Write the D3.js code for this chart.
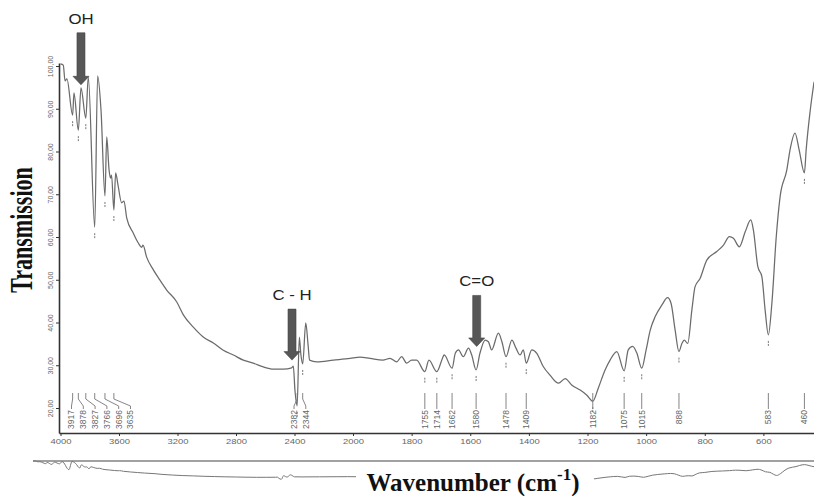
<!DOCTYPE html>
<html><head><meta charset="utf-8">
<script src="https://cdn.jsdelivr.net/npm/d3@7"></script>
<style>body{margin:0;background:#fff}svg{display:block;background:#fff}</style>
</head><body><svg id="c" width="814" height="496"></svg>
<script>
// ---------------- DATA ----------------
const wavenumbers = [4000,3981,3969,3956,3917,3908,3878,3860,3827,3810,
3766,3746,3723,3696,3684,3668,3658,3651,3635,3623,
3607,3582,3566,3547,3502,3468,3445,3436,3411,3365,
3320,3274,3205,3160,3092,3024,2955,2887,2818,2750,
2682,2613,2545,2477,2419,2408,2397,2382,2367,2356,
2344,2323,2307,2297,2248,2134,2020,1976,1942,1898,
1874,1851,1834,1817,1800,1783,1755,1741,1714,1695,
1689,1662,1651,1640,1624,1606,1595,1580,1567,1549,
1538,1527,1504,1492,1478,1458,1444,1430,1419,1409,
1390,1373,1351,1328,1299,1276,1254,1225,1202,1182,
1163,1140,1123,1100,1075,1061,1046,1032,1015,1000,
986,969,946,927,915,901,888,878,870,858,
844,833,816,793,759,736,716,702,682,662,
643,634,619,605,594,583,571,556,543,520,
509,492,478,460,454,440,427];
const transmission = [100.5,100.2,96.5,97.0,88.5,93.7,85.0,94.9,87.8,97.4,
62.3,97.7,89.7,69.6,83.4,75.7,73.8,74.5,66.3,75.0,
72.2,68.0,68.4,64.4,60.9,58.6,57.6,58.1,55.3,52.3,
49.9,47.6,44.8,41.8,38.9,36.6,35.2,33.5,32.4,31.2,
30.5,29.6,29.1,29.1,29.4,29.8,24.2,20.5,36.6,32.4,
30.3,39.9,34.7,31.2,30.8,31.2,31.6,31.9,31.6,31.2,
31.6,30.8,32.0,30.5,31.2,31.2,28.5,31.2,28.5,31.6,
32.4,29.3,32.8,33.6,32.0,34.0,32.4,28.9,32.8,35.9,
35.5,33.6,37.5,35.5,32.0,35.9,34.0,32.4,33.6,30.5,
33.6,32.8,29.7,27.7,25.8,26.9,25.4,24.2,23.0,21.6,
24.7,28.9,31.2,33.2,28.7,33.6,34.4,32.9,29.3,33.6,
38.2,41.4,44.1,45.8,44.5,38.2,33.2,35.1,35.9,35.1,
42.9,48.4,50.3,54.6,56.6,58.1,60.1,59.7,57.7,61.2,
64.0,61.6,53.1,50.7,42.9,37.1,44.5,60.1,69.4,75.7,
80.4,84.3,80.4,75.0,80.4,89.7,96.3];
const xTickValues = [4000,3600,3200,2800,2400,2000,1800,1600,1400,1200,1000,800,600,400];
const yTickValues = [20,30,40,50,60,70,80,90,100];
const peakLabels = [3917,3878,3827,3766,3696,3635,2382,2344,1755,1714,1662,1580,1478,1409,1182,1075,1015,888,583,460];
const bandNames = ["OH","C - H","C=O"];
const bandWavenumbers = [3860,2417,1578];
const bandTipValues = [95.6,31.2,34.4];
const xTitle = "Wavenumber (cm";
const xTitleSup = "-1";
const yTitle = "Transmission";

// ---------------- LAYOUT ----------------
const svg = d3.select("#c");
const axisX = 59, plotTop = 63, plotBottom = 433;
const x = d3.scaleLinear().domain([4000,2000,400]).range([60.5,353,822]);
const y = d3.scaleLinear().domain([20,100]).range([408,66]);
const data = wavenumbers.map((w,i)=>({w, v: transmission[i]}));
const ink = "#333", curveCol = "#6b6b6b", labCol = "#555";

// Y axis
const yAxisScale = d3.scaleLinear().domain([y.invert(plotBottom), y.invert(plotTop)]).range([plotBottom, plotTop]);
const gy = svg.append("g").attr("transform",`translate(${axisX},0)`)
  .call(d3.axisLeft(yAxisScale).tickValues(yTickValues).tickSize(3).tickSizeOuter(0)
    .tickFormat(d=>d.toFixed(2).replace(".",",")));
gy.select(".domain").attr("stroke",ink).attr("stroke-width",1.6);
gy.selectAll(".tick line").attr("stroke",ink);
gy.selectAll(".tick text").attr("transform","rotate(-90)").attr("x",0).attr("y",-6).attr("dy",0)
  .attr("text-anchor","middle").attr("fill","#666").style("font","7px 'Liberation Sans', Arial, sans-serif");

// X axis
const xAxisScale = d3.scaleLinear().domain([x.invert(axisX),2000,400]).range([axisX,353,822]);
const gx = svg.append("g").attr("transform",`translate(0,${plotBottom})`)
  .call(d3.axisBottom(xAxisScale).tickValues(xTickValues).tickSize(3).tickSizeOuter(0).tickPadding(3).tickFormat(d=>d));
gx.select(".domain").attr("stroke",ink).attr("stroke-width",1.6);
gx.selectAll(".tick line").attr("stroke",ink);
gx.selectAll(".tick text").attr("fill","#666").attr("transform","scale(1.35,1)")
  .style("font","7px 'Liberation Sans', Arial, sans-serif");

// spectrum
const line = d3.line().x(d=>x(d.w)).y(d=>y(d.v)).curve(d3.curveMonotoneX);
svg.append("path").datum(data).attr("d",line).attr("fill","none")
  .attr("stroke",curveCol).attr("stroke-width",1.25).attr("stroke-linejoin","round");

// peak markers & labels
function nearest(w){ return data.reduce((a,b)=>Math.abs(b.w-w)<Math.abs(a.w-w)?b:a); }
const peaks = peakLabels.map(p=>({p, px:x(p), v:nearest(p).v})).sort((a,b)=>a.px-b.px);
// cluster layout for labels (min spacing), clamp to left edge
const minSp = 11.8, leftLim = axisX + 12.5;
let clusters = peaks.map(d=>({items:[d]}));
function pos(c){ const m=d3.mean(c.items,d=>d.px); let s=m-(c.items.length-1)*minSp/2; return Math.max(s,leftLim); }
let changed=true;
while(changed){ changed=false;
  for(let i=0;i<clusters.length-1;i++){
    const a=clusters[i], b=clusters[i+1];
    if(pos(a)+(a.items.length-1)*minSp+minSp > pos(b)){ a.items=a.items.concat(b.items); clusters.splice(i+1,1); changed=true; break; }
  }}
clusters.forEach(c=>{ const s=pos(c); c.items.forEach((d,i)=>d.lx = c.items.length>1 ? s+i*minSp : d.px); });

const gp = svg.append("g");
peaks.forEach(d=>{
  const yd = y(d.v);
  gp.append("line").attr("x1",d.px).attr("x2",d.px).attr("y1",yd+6).attr("y2",yd+11)
    .attr("stroke","#777").attr("stroke-width",1).attr("stroke-dasharray","2,1");
  gp.append("path").attr("d",`M${d.px},393 L${d.px},399 L${d.lx},406 L${d.lx},409`)
    .attr("fill","none").attr("stroke","#777").attr("stroke-width",0.9);
  gp.append("text").attr("transform",`translate(${d.lx+2.8},410) rotate(-90)`)
    .attr("text-anchor","end").attr("fill","#666").style("font","8.5px 'Liberation Sans', Arial, sans-serif")
    .text(d.p);
});

// band arrows
const ga = svg.append("g");
const arrowLen = [52,51,51];
bandNames.forEach((name,i)=>{
  const cx = x(bandWavenumbers[i]), tip = y(bandTipValues[i]), top = tip - arrowLen[i];
  const hw = 4, hh = 8.5, hwid = 8;
  ga.append("path").attr("d",`M${cx-hw},${top} L${cx+hw},${top} L${cx+hw},${tip-hh} L${cx+hwid},${tip-hh} L${cx},${tip} L${cx-hwid},${tip-hh} L${cx-hw},${tip-hh} Z`)
    .attr("fill","#575757").attr("stroke","#444").attr("stroke-width",0.6);
  ga.append("text").attr("transform",`translate(${cx},${top-9}) scale(1.2,1)`).attr("text-anchor","middle")
    .attr("fill","#222").style("font","14px 'Liberation Sans', Arial, sans-serif").text(name);
});

// overview strip
const xm = d3.scaleLinear().domain([4000,2000,400]).range([33,340,833]);
const ym = d3.scaleLinear().domain([20,100]).range([479.4,461]);
svg.append("line").attr("x1",33).attr("x2",814).attr("y1",461).attr("y2",461).attr("stroke","#444").attr("stroke-width",1.2);
svg.append("path").datum(data).attr("d",d3.line().x(d=>xm(d.w)).y(d=>ym(d.v)).curve(d3.curveMonotoneX))
  .attr("fill","none").attr("stroke","#777").attr("stroke-width",1);

// axis titles
svg.append("rect").attr("x",356).attr("y",464).attr("width",238).attr("height",32).attr("fill","#fff");
const xt = svg.append("text").attr("x",473).attr("y",491).attr("text-anchor","middle")
  .style("font","bold 25px 'Liberation Serif', 'Times New Roman', serif").attr("fill","#111");
xt.append("tspan").text(xTitle);
xt.append("tspan").attr("dy",-11).style("font-size","17px").text(xTitleSup);
xt.append("tspan").attr("dy",11).text(")");

svg.append("text").attr("transform","translate(32,230) rotate(-90) scale(1,1.4)").attr("text-anchor","middle")
  .style("font","bold 22px 'Liberation Serif', 'Times New Roman', serif").attr("fill","#111").text(yTitle);
</script></body></html>
